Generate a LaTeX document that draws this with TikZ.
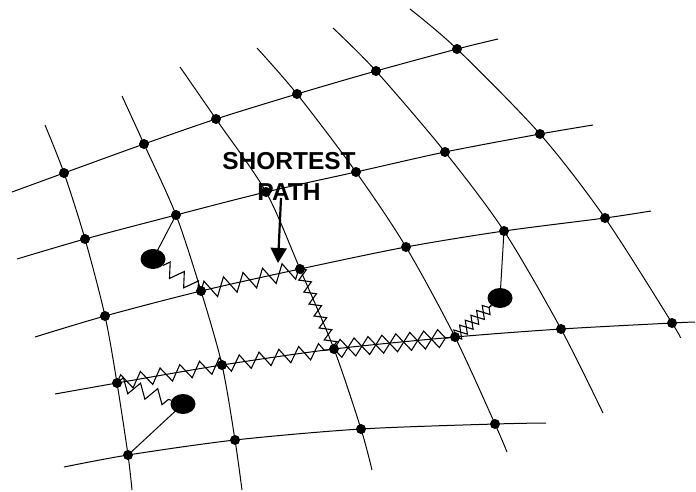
\documentclass[tikz,border=0pt]{standalone}
\usepackage{fontspec}
\setmainfont{Liberation Sans}
\usetikzlibrary{decorations.pathmorphing,arrows.meta,shapes.geometric}
\begin{document}
\begin{tikzpicture}[x=1pt,y=-1pt,
  gridline/.style={line width=1pt},
  dot/.style={circle,fill=black,inner sep=0pt,minimum size=10pt},
  blob/.style={ellipse,fill=black,inner sep=0pt,minimum width=25pt,minimum height=20pt},
  zz/.style args={#1/#2}{line width=1.1pt,line join=miter,decorate,decoration={zigzag,segment length=#1,amplitude=#2}},
  zzm/.style args={#1/#2}{line width=1.1pt,line join=miter,decorate,decoration={zigzag,segment length=#1,amplitude=#2,mirror}},
  lbl/.style={font=\fontsize{24.5}{31}\selectfont\bfseries,align=center,inner sep=0pt}
]
\useasboundingbox (0,0) rectangle (696,491);
% grid intersections (dots)
\foreach \n/\x/\y in {A1/64/173,A2/144/144,A3/216/119,A4/297/94,A5/376/71,A6/457/49,
  B1/85/239,B2/176/215,B3/266/192,B4/356/172,B5/445/152,B6/540/134,
  C1/105/316,C2/201/291,C3/300/269,C4/406/247,C5/504/231,C6/605/218,
  D1/117/383,D2/222/365,D3/334/349,D4/455/337,D5/561/329,D6/672/323,
  E1/128/455,E2/235/440,E3/361/429,E4/495/424}
  \node[dot] (\n) at (\x,\y) {};
% free ends of the grid lines
\foreach \n/\x/\y in {A0/12/192,A7/498/39,B0/17/259,B7/593/125,C0/35/337,C7/651/211,
  D0/55/394,D7/695/322,E0/64/467,E7/546/423,
  T1/45/125,T2/122/96,T3/180/67,T4/257/48,T5/333/28,T6/410/9,
  U1/132/490,U2/242/490,U3/372/470,U4/507/452,U5/603/413,U6/680/337}
  \coordinate (\n) at (\x,\y);
% big blobs
\node[blob] (e1) at (153,259) {};
\node[blob] (e2) at (183,404) {};
\node[blob] (e3) at (500,298) {};
% rows
\draw[gridline] plot[smooth] coordinates {(A0) (A1.center) (A2.center) (A3.center) (A4.center) (A5.center) (A6.center) (A7)};
\draw[gridline] plot[smooth] coordinates {(B0) (B1.center) (B2.center) (B3.center) (B4.center) (B5.center) (B6.center) (B7)};
\draw[gridline] plot[smooth] coordinates {(C0) (C1.center) (C2.center) (C3.center) (C4.center) (C5.center) (C6.center) (C7)};
\draw[gridline] plot[smooth] coordinates {(D0) (D1.center) (D2.center) (D3.center) (D4.center) (D5.center) (D6.center) (D7)};
\draw[gridline] plot[smooth] coordinates {(E0) (E1.center) (E2.center) (E3.center) (E4.center) (E7)};
% columns
\draw[gridline] plot[smooth] coordinates {(T1) (A1.center) (B1.center) (C1.center) (D1.center) (E1.center) (U1)};
\draw[gridline] plot[smooth] coordinates {(T2) (A2.center) (B2.center) (C2.center) (D2.center) (E2.center) (U2)};
\draw[gridline] plot[smooth] coordinates {(T3) (A3.center) (B3.center) (C3.center) (D3.center) (E3.center) (U3)};
\draw[gridline] plot[smooth] coordinates {(T4) (A4.center) (B4.center) (C4.center) (D4.center) (E4.center) (U4)};
\draw[gridline] plot[smooth] coordinates {(T5) (A5.center) (B5.center) (C5.center) (D5.center) (U5)};
\draw[gridline] plot[smooth] coordinates {(T6) (A6.center) (B6.center) (C6.center) (D6.center) (U6)};
% straight connectors to blobs
\draw[gridline] (B2.center) -- (e1.center);
\draw[gridline] (E1.center) -- (e2.center);
\draw[gridline] (C5.center) -- (e3.center);
% zigzag shortest paths
\draw[zz=17pt/7pt] (e1) -- (C2.center);
\draw[zz=20pt/9pt] (C2.center) -- (C3.center);
\draw[zz=13pt/5.5pt] (C3.center) -- (D3.center);
\draw[zz=28pt/9pt] (D3.center) -- (D4.center);
\draw[zzm=28pt/9pt] (D3.center) -- (D4.center);
\draw[zz=15pt/6pt] (D4.center) -- (e3);
\draw[zzm=15pt/6pt] (D4.center) -- (e3);
\draw[zz=20pt/7.5pt] (D1.center) -- (D2.center) -- (D3.center);
\draw[zz=18pt/7pt] (D1.center) -- (e2);
% label and arrow
\node[lbl] (label) at (289,176) {SHORTEST\\PATH};
\coordinate (arrS) at (281,198);
\coordinate (arrE) at (278,263);
\draw[line width=2.2pt,-{Triangle[width=16pt,length=15pt]}] (arrS) -- (arrE);
\end{tikzpicture}
\end{document}
